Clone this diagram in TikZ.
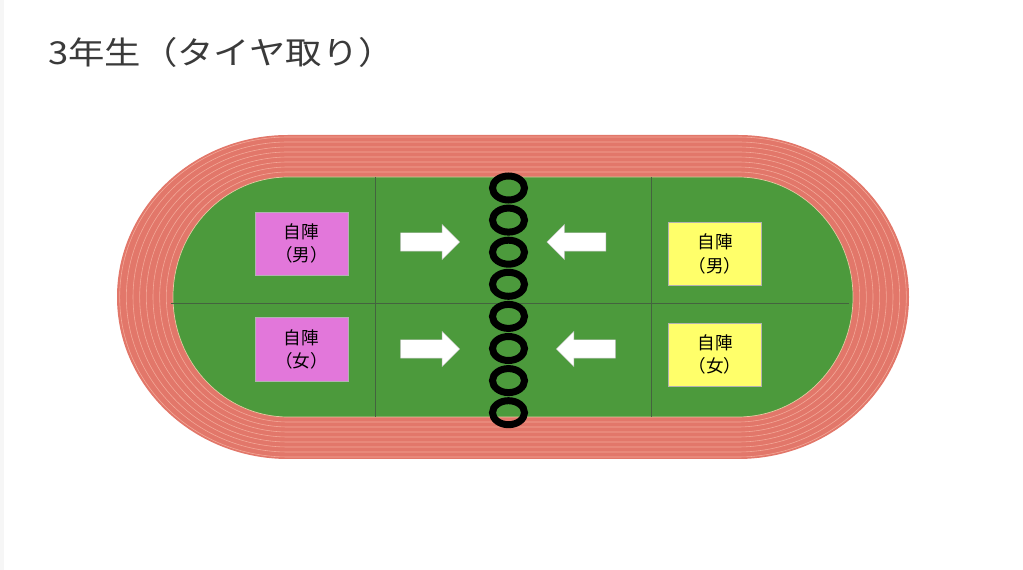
\documentclass[tikz,border=0pt]{standalone}
\usepackage{fontspec}
\setmainfont{Noto Sans CJK JP}
\newfontfamily\titlefont[FakeStretch=1.15]{Noto Sans CJK JP}
\usepackage{tikz}
\usetikzlibrary{positioning, shapes.arrows}
\definecolor{trackRed}{HTML}{E2776A}
\definecolor{laneLine}{HTML}{F3A898}
\definecolor{fieldGreen}{HTML}{4C9A3C}
\definecolor{fieldLine}{HTML}{44633F}
\definecolor{fieldEdge}{HTML}{E6C9A2}
\definecolor{campPink}{HTML}{E277DA}
\definecolor{campYellow}{HTML}{FFFF6A}
\definecolor{titleGray}{HTML}{3A3A3A}

% oval of the track: x radius, y radius of the bends
\newcommand{\stadium}[2]{(288,{-297+#2}) arc[start angle=90, end angle=270, x radius=#1, y radius=#2] -- (738,{-297-#2}) arc[start angle=-90, end angle=90, x radius=#1, y radius=#2] -- cycle}

\begin{document}
\begin{tikzpicture}[x=0.03cm, y=0.03cm,
    lane/.style={laneLine, line width=0.5pt},
    camp/.style={draw=black!30, line width=0.3pt, minimum width=2.8cm, minimum height=1.9cm, inner sep=0pt, align=center, font=\fontsize{15}{20}\selectfont},
    push/.style={single arrow, draw=gray!45, fill=white, line width=0.4pt, minimum height=1.77cm, minimum width=1.05cm, single arrow head extend=0.25cm, single arrow head indent=0pt, inner xsep=0pt, inner ysep=0.27cm},
    tire/.style={draw=black, line width=0.21cm}]
    \useasboundingbox (0,0) rectangle (1023,-570);
    \fill[gray!7] (0,0) rectangle (4,-570);

    \node[anchor=west, text=titleGray, font=\titlefont\fontsize{27}{30}\selectfont, inner sep=0pt] (title) at (48,-52) {3年生（タイヤ取り）};

    % track
    \fill[trackRed] \stadium{171}{162};
    \foreach \r [evaluate=\r as \xr using 115+1.333*(\r-120)] in {125,130,...,160}
        \draw[lane] \stadium{\xr}{\r};
    \fill[fieldGreen] \stadium{115}{120};
    \draw[fieldEdge, line width=0.6pt] \stadium{115}{120};

    % field lines
    \coordinate (L1) at (375,-177); \coordinate (L2) at (375,-417);
    \coordinate (R1) at (651,-177); \coordinate (R2) at (651,-417);
    \coordinate (M1) at (171,-303); \coordinate (M2) at (849,-303);
    \draw[fieldLine, line width=0.8pt] (L1)--(L2);
    \draw[fieldLine, line width=0.8pt] (R1)--(R2);
    \draw[fieldLine, line width=0.8pt] (M1)--(M2);

    % camps
    \node[camp, fill=campPink] (campLM) at (301.5,-243.5) {自陣\\（男）};
    \node[camp, fill=campPink, below=1.26cm of campLM] (campLW) {自陣\\（女）};
    \node[camp, fill=campYellow] (campRM) at (715,-254) {自陣\\（男）};
    \node[camp, fill=campYellow, below=1.1cm of campRM] (campRW) {自陣\\（女）};

    % arrows
    \node[push] (pushLM) at (425.5,-242) {};
    \node[push] (pushLW) at (425.5,-349) {};
    \node[push, shape border rotate=180] (pushRM) at (581,-242) {};
    \node[push, shape border rotate=180] (pushRW) at (590.5,-349) {};

    % tires
    \foreach \i in {0,...,7}
        \draw[tire] (508.5,{-188-32.1*\i}) ellipse [x radius=16, y radius=12];
\end{tikzpicture}
\end{document}
